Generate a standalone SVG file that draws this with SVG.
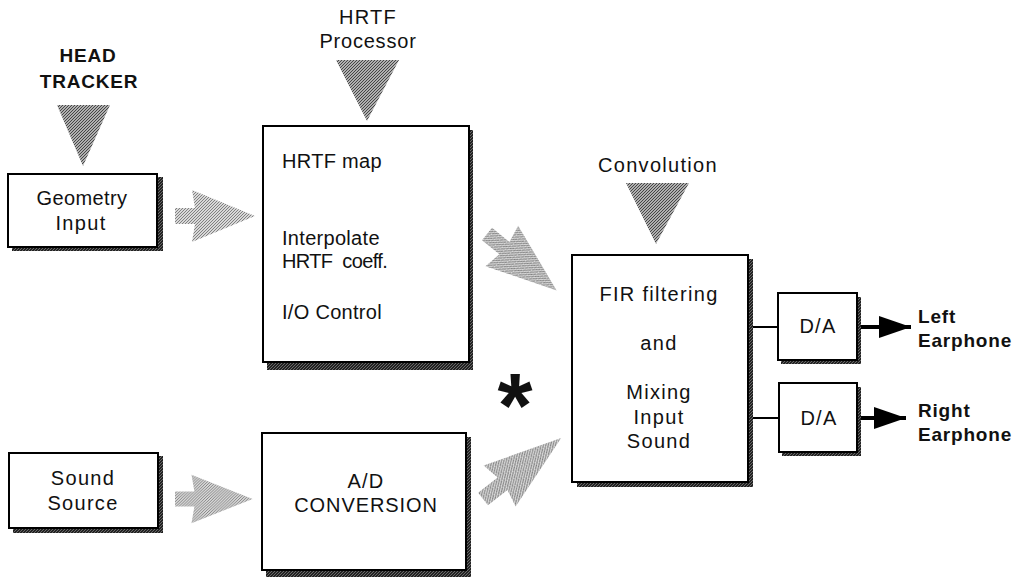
<svg xmlns="http://www.w3.org/2000/svg" width="1027" height="577" viewBox="0 0 1027 577">
  <defs>
    <pattern id="hatchDark" width="3" height="3" patternUnits="userSpaceOnUse">
      <rect width="3" height="3" fill="#b0b0b0"/>
      <path d="M0,3 L3,0" stroke="#3a3a3a" stroke-width="0.9"/>
    </pattern>
    <pattern id="hatchLight" width="3" height="3" patternUnits="userSpaceOnUse">
      <rect width="3" height="3" fill="#d8d8d8"/>
      <path d="M0,3 L3,0" stroke="#6a6a6a" stroke-width="0.8"/>
    </pattern>
    <pattern id="shadowHatch" width="3" height="3" patternUnits="userSpaceOnUse">
      <rect width="3" height="3" fill="#222"/>
      <path d="M0,3 L3,0" stroke="#999" stroke-width="0.6"/>
    </pattern>
    <path id="fatArrow" d="M0,-8 L20,-8 L17,-26 L80,0 L17,26 L20,8 L0,8 Z"/>
    <marker id="head" markerWidth="34" markerHeight="24" refX="32" refY="12" orient="auto" markerUnits="userSpaceOnUse">
      <path d="M0,1 L32,12 L0,23 Z" fill="#000"/>
    </marker>
  </defs>
  <style>
    text { font-family: "Liberation Sans", Arial, sans-serif; font-size: 20px; fill: #111; letter-spacing: 1.3px; }
    .c { text-anchor: middle; }
    .b { font-weight: bold; font-size: 19px; letter-spacing: 0.8px; }
    .m { font-size: 20px; letter-spacing: 0.3px; }
    .box { fill: #fff; stroke: #000; stroke-width: 2; }
    .shadow { fill: url(#shadowHatch); }
    .tri { fill: url(#hatchDark); stroke: none; }
    .fat { fill: url(#hatchLight); }
    .wire { stroke: #000; stroke-width: 2; fill: none; }
    .out { stroke: #000; stroke-width: 4; fill: none; }
  </style>
  <rect width="1027" height="577" fill="#fff"/>

  <g id="head-tracker">
    <text class="c b" x="88" y="62">HEAD</text>
    <text class="c b" x="89" y="88">TRACKER</text>
    <polygon class="tri" points="57,105 110,105 83,166"/>
  </g>

  <g id="hrtf-processor">
    <text class="c" x="368" y="24">HRTF</text>
    <text class="c" x="368" y="48" style="letter-spacing:0.8px">Processor</text>
    <polygon class="tri" points="336,60 399,60 367,121"/>
  </g>

  <g id="convolution">
    <text class="c" x="658" y="172">Convolution</text>
    <polygon class="tri" points="626,183 689,183 656,244"/>
  </g>

  <g id="geometry-input">
    <rect class="shadow" x="12" y="177" width="151" height="74"/>
    <rect class="box" x="8" y="174" width="149" height="73"/>
    <text class="c" x="82" y="205" style="letter-spacing:0.4px">Geometry</text>
    <text class="c" x="81" y="230">Input</text>
  </g>

  <g id="hrtf-box">
    <rect class="shadow" x="267" y="130" width="206" height="240"/>
    <rect class="box" x="263" y="126" width="206" height="236"/>
    <text class="m" x="282" y="168">HRTF map</text>
    <text class="m" x="282" y="245">Interpolate</text>
    <text class="m" x="282" y="268" xml:space="preserve" textLength="106" lengthAdjust="spacing">HRTF  coeff.</text>
    <text class="m" x="282" y="319">I/O Control</text>
  </g>

  <g id="sound-source">
    <rect class="shadow" x="13" y="456" width="150" height="77"/>
    <rect class="box" x="9" y="453" width="149" height="75"/>
    <text class="c" x="83" y="485">Sound</text>
    <text class="c" x="83" y="510">Source</text>
  </g>

  <g id="ad-conversion">
    <rect class="shadow" x="266" y="437" width="205" height="140"/>
    <rect class="box" x="262" y="433" width="204" height="137"/>
    <text class="c" x="366" y="488">A/D</text>
    <text class="c" x="366" y="512" style="letter-spacing:0.9px">CONVERSION</text>
  </g>

  <g id="fir-box">
    <rect class="shadow" x="577" y="259" width="176" height="228"/>
    <rect class="box" x="572" y="255" width="176" height="227"/>
    <text class="c" x="659" y="301">FIR filtering</text>
    <text class="c" x="659" y="350">and</text>
    <text class="c" x="659" y="399">Mixing</text>
    <text class="c" x="659" y="424">Input</text>
    <text class="c" x="659" y="448">Sound</text>
  </g>

  <g id="star">
    <text class="c" x="515" y="437" style="font-size:90px;font-weight:bold;letter-spacing:0">*</text>
  </g>

  <g id="da-left">
    <rect class="shadow" x="781" y="297" width="80" height="67"/>
    <rect class="box" x="778" y="293" width="79" height="67"/>
    <text class="c" x="818" y="333">D/A</text>
  </g>

  <g id="da-right">
    <rect class="shadow" x="782" y="387" width="79" height="69"/>
    <rect class="box" x="779" y="383" width="78" height="69"/>
    <text class="c" x="819" y="425">D/A</text>
  </g>

  <g id="left-earphone">
    <text class="b" x="918" y="323">Left</text>
    <text class="b" x="918" y="347">Earphone</text>
  </g>

  <g id="right-earphone">
    <text class="b" x="918" y="417">Right</text>
    <text class="b" x="918" y="441">Earphone</text>
  </g>

  <g id="connectors">
    <use href="#fatArrow" class="fat" transform="translate(175,216)"/>
    <use href="#fatArrow" class="fat" transform="translate(175,499) scale(0.97,0.93)"/>
    <use href="#fatArrow" class="fat" transform="translate(487,234) rotate(39) scale(1.12,1)"/>
    <use href="#fatArrow" class="fat" transform="translate(483,499) rotate(-38) scale(1.24,1)"/>
    <line class="wire" x1="753" y1="327" x2="778" y2="327"/>
    <line class="wire" x1="753" y1="418" x2="779" y2="418"/>
    <line class="out" x1="861" y1="327" x2="911" y2="327" marker-end="url(#head)"/>
    <line class="out" x1="861" y1="418" x2="906" y2="418" marker-end="url(#head)"/>
  </g>
</svg>
